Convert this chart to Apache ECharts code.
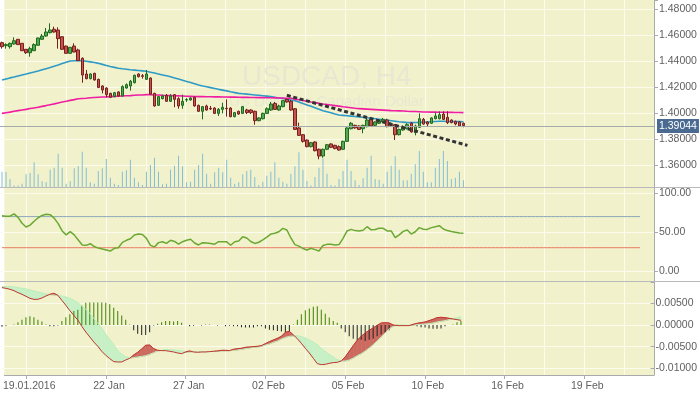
<!DOCTYPE html>
<html><head><meta charset="utf-8">
<script src="https://cdn.jsdelivr.net/npm/echarts@6/dist/echarts.min.js"></script>
<style>html,body{margin:0;padding:0;background:#fff}#c{width:700px;height:394px}</style>
</head><body><div id="c"></div>
<script>
// ---------------- data ----------------
const slotCount = 163;
const xTickIndex = [5, 25, 45, 65, 85, 105, 125, 145];
const xTickText = ['19.01.2016', '22 Jan', '27 Jan', '02 Feb', '05 Feb', '10 Feb', '16 Feb', '19 Feb'];

const priceOpen = [1.4541,1.4518,1.4510,1.4531,1.4567,1.4536,1.4490,1.4464,1.4479,1.4521,
1.4567,1.4592,1.4618,1.4644,1.4638,1.4587,1.4515,1.4459,1.4515,1.4485,
1.4421,1.4300,1.4264,1.4305,1.4259,1.4208,1.4192,1.4151,1.4126,1.4162,
1.4131,1.4192,1.4208,1.4233,1.4300,1.4287,1.4259,1.4269,1.4151,1.4059,
1.4110,1.4136,1.4090,1.4141,1.4110,1.4059,1.4100,1.4100,1.4121,1.4059,
1.4013,1.4054,1.4036,1.4038,1.3997,1.4028,1.4036,1.4038,1.3972,1.4013,
1.3997,1.4023,1.4023,1.4013,1.3941,1.3956,1.3997,1.4023,1.4074,1.4023,
1.4049,1.4105,1.4090,1.4033,1.3885,1.3833,1.3792,1.3741,1.3777,1.3721,
1.3669,1.3721,1.3762,1.3751,1.3741,1.3721,1.3782,1.3879,1.3905,1.3900,
1.3879,1.3895,1.3951,1.3905,1.3921,1.3931,1.3946,1.3910,1.3910,1.3833,
1.3869,1.3879,1.3921,1.3849,1.3890,1.3951,1.3931,1.3921,1.3956,1.3956,
1.3992,1.3967,1.3946,1.3936,1.3931,1.3921];
const priceHigh = [1.4549,1.4536,1.4541,1.4582,1.4569,1.4538,1.4492,1.4510,1.4536,1.4580,
1.4608,1.4654,1.4690,1.4664,1.4659,1.4590,1.4518,1.4508,1.4536,1.4495,
1.4428,1.4331,1.4305,1.4310,1.4264,1.4213,1.4197,1.4156,1.4162,1.4167,
1.4213,1.4228,1.4254,1.4295,1.4305,1.4300,1.4331,1.4274,1.4156,1.4131,
1.4141,1.4146,1.4146,1.4146,1.4121,1.4141,1.4115,1.4121,1.4126,1.4064,
1.4054,1.4064,1.4054,1.4044,1.4038,1.4079,1.4105,1.4044,1.4008,1.4018,
1.4054,1.4033,1.4028,1.4018,1.3967,1.4003,1.4044,1.4085,1.4085,1.4064,
1.4100,1.4110,1.4100,1.4038,1.3926,1.3838,1.3797,1.3777,1.3782,1.3726,
1.3726,1.3762,1.3767,1.3756,1.3751,1.3787,1.3890,1.3931,1.3910,1.3905,
1.3910,1.3962,1.3967,1.3936,1.3951,1.3962,1.3956,1.3926,1.3915,1.3879,
1.3905,1.3921,1.3931,1.3910,1.3997,1.3962,1.3936,1.3967,1.4003,1.4013,
1.4013,1.4013,1.3951,1.3941,1.3936,1.3926];
const priceLow = [1.4495,1.4495,1.4495,1.4526,1.4523,1.4477,1.4454,1.4433,1.4477,1.4518,
1.4562,1.4587,1.4613,1.4618,1.4495,1.4485,1.4456,1.4456,1.4467,1.4400,
1.4233,1.4259,1.4259,1.4249,1.4192,1.4151,1.4121,1.4115,1.4121,1.4126,
1.4126,1.4187,1.4172,1.4228,1.4274,1.4264,1.4254,1.4141,1.4049,1.4054,
1.4105,1.4085,1.4085,1.4044,1.4033,1.4033,1.4085,1.4095,1.4049,1.4008,
1.3951,1.4018,1.4023,1.3992,1.3977,1.3997,1.3972,1.3967,1.3967,1.3987,
1.3992,1.3992,1.3992,1.3910,1.3936,1.3951,1.3992,1.4018,1.4023,1.4018,
1.4044,1.4079,1.4018,1.3869,1.3823,1.3772,1.3736,1.3736,1.3705,1.3644,
1.3656,1.3715,1.3731,1.3721,1.3710,1.3715,1.3777,1.3874,1.3879,1.3869,
1.3844,1.3890,1.3895,1.3900,1.3915,1.3926,1.3890,1.3895,1.3792,1.3828,
1.3864,1.3874,1.3849,1.3828,1.3885,1.3910,1.3895,1.3915,1.3951,1.3951,
1.3946,1.3915,1.3921,1.3905,1.3895,1.3890];
const priceClose = [1.4510,1.4526,1.4536,1.4556,1.4526,1.4479,1.4464,1.4495,1.4526,1.4577,
1.4592,1.4623,1.4638,1.4623,1.4572,1.4490,1.4459,1.4505,1.4469,1.4403,
1.4292,1.4264,1.4300,1.4254,1.4197,1.4177,1.4141,1.4121,1.4156,1.4131,
1.4203,1.4218,1.4244,1.4290,1.4279,1.4282,1.4300,1.4146,1.4054,1.4126,
1.4131,1.4090,1.4131,1.4105,1.4054,1.4090,1.4103,1.4115,1.4054,1.4013,
1.4049,1.4023,1.4031,1.3997,1.4028,1.4044,1.4033,1.3972,1.4003,1.3992,
1.4049,1.4003,1.4003,1.3941,1.3962,1.3997,1.4033,1.4069,1.4028,1.4054,
1.4095,1.4085,1.4023,1.3874,1.3828,1.3782,1.3741,1.3772,1.3710,1.3669,
1.3721,1.3756,1.3736,1.3726,1.3715,1.3782,1.3885,1.3921,1.3885,1.3874,
1.3905,1.3946,1.3900,1.3931,1.3941,1.3951,1.3895,1.3905,1.3833,1.3874,
1.3895,1.3910,1.3854,1.3900,1.3956,1.3915,1.3915,1.3962,1.3977,1.3987,
1.3951,1.3926,1.3926,1.3915,1.3900,1.3904];

const maSlow = [1.4254,1.4262,1.4270,1.4277,1.4285,1.4293,1.4300,1.4308,1.4315,1.4323,
1.4332,1.4341,1.4350,1.4360,1.4369,1.4380,1.4390,1.4400,1.4402,1.4403,
1.4403,1.4398,1.4393,1.4388,1.4382,1.4374,1.4366,1.4358,1.4351,1.4344,
1.4340,1.4337,1.4333,1.4330,1.4327,1.4324,1.4321,1.4314,1.4307,1.4300,
1.4293,1.4286,1.4279,1.4270,1.4261,1.4252,1.4243,1.4234,1.4225,1.4215,
1.4208,1.4202,1.4195,1.4189,1.4182,1.4176,1.4170,1.4163,1.4157,1.4151,
1.4148,1.4145,1.4142,1.4139,1.4136,1.4133,1.4130,1.4126,1.4121,1.4116,
1.4111,1.4105,1.4100,1.4095,1.4084,1.4073,1.4062,1.4051,1.4040,1.4029,
1.4018,1.4010,1.4002,1.3993,1.3985,1.3982,1.3979,1.3976,1.3973,1.3970,
1.3967,1.3963,1.3959,1.3956,1.3952,1.3948,1.3945,1.3941,1.3937,1.3933,
1.3930,1.3926,1.3926,1.3927,1.3928,1.3930,1.3931,1.3933,1.3935,1.3936,
1.3936,1.3935,1.3935,1.3934,1.3934,1.3933];
const maLong = [1.3997,1.4002,1.4007,1.4013,1.4018,1.4023,1.4028,1.4034,1.4039,1.4044,
1.4051,1.4057,1.4064,1.4070,1.4077,1.4084,1.4090,1.4097,1.4103,1.4110,
1.4112,1.4114,1.4117,1.4119,1.4121,1.4123,1.4124,1.4126,1.4128,1.4129,
1.4131,1.4133,1.4134,1.4136,1.4138,1.4139,1.4141,1.4140,1.4139,1.4138,
1.4136,1.4135,1.4134,1.4133,1.4132,1.4131,1.4129,1.4128,1.4127,1.4126,
1.4126,1.4125,1.4125,1.4124,1.4124,1.4123,1.4123,1.4122,1.4122,1.4121,
1.4120,1.4120,1.4119,1.4119,1.4118,1.4118,1.4117,1.4117,1.4116,1.4115,
1.4115,1.4114,1.4113,1.4107,1.4102,1.4096,1.4091,1.4085,1.4080,1.4074,
1.4069,1.4065,1.4061,1.4057,1.4053,1.4048,1.4044,1.4040,1.4036,1.4034,
1.4032,1.4030,1.4028,1.4026,1.4024,1.4022,1.4020,1.4018,1.4017,1.4016,
1.4015,1.4013,1.4012,1.4011,1.4010,1.4008,1.4008,1.4007,1.4007,1.4006,
1.4006,1.4005,1.4005,1.4004,1.4004,1.4003];

const volume = [1530,1500,800,150,150,330,1270,1400,2470,1270,
570,470,1730,1930,3330,1930,330,570,1870,2070,
3530,1930,470,330,1600,1870,2800,930,330,200,
1530,1670,2730,930,470,200,1530,2200,2930,1530,
270,330,1730,2130,3130,2070,470,530,1730,2200,
3330,1330,330,1470,1930,1470,2730,930,330,470,
1270,1600,1730,1000,200,530,1130,1530,2470,930,
530,330,1330,2070,3470,1730,600,150,1000,1930,
2870,1330,200,150,800,1600,2730,1600,670,200,
870,1930,3130,800,730,330,1530,2130,3070,1730,
670,670,1330,2270,3600,1530,470,470,1930,2800,
3600,2600,800,930,1530,670];

const oscValues = [71,70.5,70.5,73.5,69,61.4,56.6,59,64,68.5,
71.5,73,72.5,68,61,51.5,46.5,50.6,46.5,40,
33.5,33,35.1,31.5,29.5,28.3,27,25.7,29.2,30,
36.9,39.5,41.5,46.3,47.5,47,42,33,31,36.5,
37.7,35.6,39.5,38,34.5,37.7,39.5,40.8,36,33.5,
36.5,36,35.5,34.5,37.7,37.7,37.5,33.2,37.7,38.5,
44,42.5,38,35.5,37,40,43.5,47.5,48.5,50.5,
54.9,52.8,42.5,34,32,29,27,29.2,27.5,25.7,
32.8,34.3,34.3,33.5,34,42,51.5,53.6,52,51.5,
52.5,57,53,53.5,54.9,54.9,51.5,51.5,43,46.5,
51,52.8,47.5,50.5,55.8,53.8,53.5,55.8,57,58.3,
54,52,50.8,49.8,49,48.5];
const oscUpperLevel = 70;
const oscLowerLevel = 30;
const oscLevelEnd = 159;

const macdHist = [-0.0004,-0.0002,0.0000,0.0001,0.0006,0.0012,0.0018,0.0020,0.0018,0.0012,
0.0008,0.0001,-0.0003,-0.0003,-0.0001,0.0009,0.0018,0.0025,0.0032,0.0035,
0.0045,0.0051,0.0052,0.0052,0.0052,0.0052,0.0051,0.0048,0.0040,0.0032,
0.0022,0.0012,0.0001,-0.0012,-0.0020,-0.0023,-0.0023,-0.0017,-0.0001,0.0003,
0.0006,0.0009,0.0009,0.0008,0.0009,0.0005,0.0000,-0.0003,-0.0002,0.0000,
-0.0001,0.0001,0.0001,0.0000,-0.0001,0.0000,-0.0003,-0.0002,-0.0003,-0.0003,
-0.0005,-0.0006,-0.0006,-0.0006,-0.0003,-0.0003,-0.0008,-0.0011,-0.0012,-0.0014,
-0.0015,-0.0017,-0.0015,0.0001,0.0012,0.0025,0.0034,0.0038,0.0042,0.0043,
0.0035,0.0026,0.0017,0.0009,0.0005,-0.0008,-0.0017,-0.0026,-0.0032,-0.0035,
-0.0034,-0.0037,-0.0034,-0.0031,-0.0026,-0.0022,-0.0018,-0.0012,-0.0001,0.0001,
0.0000,-0.0001,0.0000,-0.0001,-0.0003,-0.0005,-0.0006,-0.0008,-0.0009,-0.0009,
-0.0008,-0.0003,0.0000,0.0001,0.0006,0.0009];
const macdLine = [0.00862,0.00846,0.00823,0.00792,0.00746,0.00708,0.00662,0.00615,0.00592,0.00592,
0.00623,0.00669,0.00708,0.00731,0.00685,0.00569,0.00454,0.00331,0.00223,0.00115,
-0.00031,-0.00162,-0.00277,-0.00392,-0.00492,-0.00608,-0.00700,-0.00777,-0.00846,-0.00854,
-0.00854,-0.00808,-0.00769,-0.00692,-0.00631,-0.00554,-0.00469,-0.00462,-0.00546,-0.00585,
-0.00592,-0.00592,-0.00608,-0.00623,-0.00646,-0.00662,-0.00623,-0.00600,-0.00623,-0.00631,
-0.00623,-0.00623,-0.00615,-0.00608,-0.00600,-0.00585,-0.00585,-0.00592,-0.00562,-0.00546,
-0.00538,-0.00515,-0.00508,-0.00500,-0.00492,-0.00477,-0.00431,-0.00385,-0.00346,-0.00308,
-0.00262,-0.00169,-0.00146,-0.00231,-0.00315,-0.00423,-0.00538,-0.00646,-0.00769,-0.00892,
-0.00915,-0.00908,-0.00885,-0.00869,-0.00862,-0.00831,-0.00738,-0.00608,-0.00477,-0.00354,
-0.00262,-0.00185,-0.00123,-0.00069,-0.00008,0.00046,0.00054,0.00046,0.00000,-0.00015,
-0.00015,-0.00015,-0.00015,0.00015,0.00038,0.00054,0.00069,0.00100,0.00131,0.00169,
0.00177,0.00169,0.00154,0.00138,0.00123,0.00108];
const macdSignal = [0.00892,0.00885,0.00885,0.00877,0.00862,0.00846,0.00831,0.00808,0.00785,0.00762,
0.00738,0.00715,0.00700,0.00692,0.00677,0.00669,0.00646,0.00615,0.00569,0.00515,
0.00438,0.00362,0.00269,0.00154,0.00038,-0.00077,-0.00215,-0.00338,-0.00454,-0.00592,
-0.00677,-0.00731,-0.00762,-0.00754,-0.00738,-0.00723,-0.00708,-0.00677,-0.00638,-0.00600,
-0.00585,-0.00569,-0.00569,-0.00577,-0.00585,-0.00600,-0.00631,-0.00623,-0.00615,-0.00615,
-0.00615,-0.00615,-0.00615,-0.00608,-0.00608,-0.00600,-0.00600,-0.00592,-0.00585,-0.00577,
-0.00562,-0.00546,-0.00531,-0.00515,-0.00508,-0.00492,-0.00462,-0.00438,-0.00400,-0.00369,
-0.00323,-0.00285,-0.00262,-0.00254,-0.00246,-0.00269,-0.00300,-0.00346,-0.00400,-0.00454,
-0.00538,-0.00615,-0.00677,-0.00738,-0.00800,-0.00831,-0.00831,-0.00808,-0.00762,-0.00708,
-0.00662,-0.00600,-0.00531,-0.00454,-0.00369,-0.00277,-0.00185,-0.00092,-0.00031,0.00000,
0.00000,-0.00008,-0.00008,0.00000,0.00008,0.00015,0.00023,0.00031,0.00046,0.00069,
0.00085,0.00100,0.00123,0.00146,0.00169,0.00185];

const lastPrice = 1.39044;
const trendFrom = [71, 1.4136];
const trendTo = [116, 1.3751];
const titleText = 'USDCAD, H4';
const subtitleText = 'US Dollar vs Canadian Dollar';

// ---------------- styling ----------------
const FONT = "'Liberation Sans',Arial,sans-serif";
const FS = 10.5;
const BG = '#f1f2cc';
const GRIDLINE = '#fbfbee';
const LABEL = '#5f5f5f';
const AXIS = '#aaaaaa';
const W = 654;

const categories = Array.from({length: slotCount}, (_, i) => 'b' + i);

function tickFmt(step, digits) {
  return function (v) {
    const k = Math.round(v / step);
    if (Math.abs(v - k * step) > step * 1e-3) return '';
    return (k * step).toFixed(digits);
  };
}

const hiddenX = (gi) => ({
  type: 'category', gridIndex: gi, data: categories, boundaryGap: true, show: false
});
const yLabelStyle = {color: LABEL, fontSize: FS, fontFamily: FONT, margin: 5};
const yTick = {show: true, length: 4, lineStyle: {color: AXIS}};
const ySplit = {show: true, showMaxLine: false, lineStyle: {color: GRIDLINE, width: 1}};

const candleData = priceOpen.map((o, i) => [o, priceClose[i], priceLow[i], priceHigh[i]]);
const fillData = macdLine.slice(0, -1).map((a, i) => [i, a, macdSignal[i], macdLine[i + 1], macdSignal[i + 1]]);
const levelSpan = categories.slice(0, oscLevelEnd + 1);
const upperLevelData = levelSpan.map(() => oscUpperLevel);
const lowerLevelData = levelSpan.map(() => oscLowerLevel);

const FILL_UP = '#cc6a5f';
const FILL_DN = '#c8f0c6';

function renderFill(params, api) {
  const i = api.value(0);
  const a0 = api.value(1), b0 = api.value(2), a1 = api.value(3), b1 = api.value(4);
  const pa0 = api.coord([i, a0]), pb0 = api.coord([i, b0]);
  const pa1 = api.coord([i + 1, a1]), pb1 = api.coord([i + 1, b1]);
  const d0 = a0 - b0, d1 = a1 - b1;
  const polys = [];
  if (d0 * d1 >= 0) {
    polys.push({pts: [pa0, pa1, pb1, pb0], up: (d0 + d1) > 0});
  } else {
    const t = d0 / (d0 - d1);
    const c = [pa0[0] + t * (pa1[0] - pa0[0]), pa0[1] + t * (pa1[1] - pa0[1])];
    polys.push({pts: [pa0, c, pb0], up: d0 > 0});
    polys.push({pts: [c, pa1, pb1], up: d1 > 0});
  }
  return {
    type: 'group',
    children: polys.map(p => ({
      type: 'polygon', shape: {points: p.pts},
      style: {fill: p.up ? FILL_UP : FILL_DN, stroke: p.up ? FILL_UP : FILL_DN, lineWidth: 0.6}
    }))
  };
}

const option = {
  animation: false,
  backgroundColor: '#ffffff',
  textStyle: {fontFamily: FONT},
  graphic: {
    elements: [
      {type: 'text', left: 327 - 85, top: 63, z: 1, silent: true,
        style: {text: titleText, fill: '#e8e8d2', fontSize: 28, fontFamily: FONT}},
      {type: 'text', left: 327 - 98, top: 94, z: 1, silent: true,
        style: {text: subtitleText, fill: '#e8e8d2', fontSize: 15, fontFamily: FONT}},
      {type: 'line', z: 10, silent: true, shape: {x1: 0, y1: 187.5, x2: 700, y2: 187.5}, style: {stroke: '#b9b9b9', lineWidth: 1}},
      {type: 'line', z: 10, silent: true, shape: {x1: 0, y1: 281.5, x2: 700, y2: 281.5}, style: {stroke: '#b9b9b9', lineWidth: 1}}
    ]
  },
  grid: [
    {left: 0, top: 0, width: W, height: 375, show: true, backgroundColor: BG, borderWidth: 0},
    {left: 0, top: 0, width: W, height: 165},
    {left: 0, top: 0, width: W, height: 187},
    {left: 0, top: 187, width: W, height: 84},
    {left: 0, top: 282, width: W, height: 86.3}
  ],
  xAxis: [
    {
      type: 'category', gridIndex: 0, data: categories, boundaryGap: true,
      axisLine: {show: true, lineStyle: {color: AXIS}},
      axisTick: {show: true, alignWithLabel: true, length: 4, lineStyle: {color: AXIS},
        interval: (idx) => xTickIndex.includes(idx)},
      axisLabel: {
        interval: (idx) => xTickIndex.includes(idx),
        formatter: (v, idx) => { const k = xTickIndex.indexOf(idx); return k >= 0 ? xTickText[k] : ''; },
        color: LABEL, fontSize: FS, fontFamily: FONT, margin: 6, padding: [0, 0, 0, 6]
      },
      splitLine: {show: true, alignWithLabel: true, interval: (idx) => idx % 10 === 5,
        lineStyle: {color: GRIDLINE, width: 1}}
    },
    hiddenX(1), hiddenX(2), hiddenX(3), hiddenX(4)
  ],
  yAxis: [
    {type: 'value', gridIndex: 0, position: 'right', min: 0, max: 1,
      axisLine: {show: true, lineStyle: {color: AXIS}}, axisTick: {show: false},
      axisLabel: {show: false}, splitLine: {show: false}},
    {type: 'value', gridIndex: 1, position: 'right', min: 1.36, max: 1.486923, interval: 0.02,
      axisLine: {show: false}, axisTick: yTick,
      axisLabel: Object.assign({formatter: tickFmt(0.02, 5)}, yLabelStyle), splitLine: ySplit},
    {type: 'value', gridIndex: 2, position: 'right', min: 0, max: 18700, show: false},
    {type: 'value', gridIndex: 3, position: 'right', min: 0, max: 108.1, interval: 50,
      axisLine: {show: false}, axisTick: yTick,
      axisLabel: Object.assign({formatter: tickFmt(50, 2)}, yLabelStyle), splitLine: ySplit},
    {type: 'value', gridIndex: 4, position: 'right', min: -0.01, max: 0.009917, interval: 0.005,
      axisLine: {show: false}, axisTick: yTick,
      axisLabel: Object.assign({formatter: tickFmt(0.005, 5)}, yLabelStyle), splitLine: ySplit}
  ],
  series: [
    {
      type: 'bar', xAxisIndex: 2, yAxisIndex: 2, data: volume, barWidth: 1,
      itemStyle: {color: '#84bed3'}, silent: true, z: 2
    },
    {
      type: 'line', xAxisIndex: 1, yAxisIndex: 1, data: maSlow, symbol: 'none', smooth: false,
      lineStyle: {color: '#2e9ac6', width: 1.6}, silent: true, z: 3
    },
    {
      type: 'line', xAxisIndex: 1, yAxisIndex: 1, data: maLong, symbol: 'none',
      lineStyle: {color: '#f01ca2', width: 1.6}, silent: true, z: 3
    },
    {
      type: 'candlestick', xAxisIndex: 1, yAxisIndex: 1, data: candleData, barWidth: 3,
      itemStyle: {color: '#55a852', borderColor: '#1e6a1e', color0: '#c4544c', borderColor0: '#7a1f1f', borderWidth: 1},
      silent: true, z: 4,
      markLine: {
        silent: true, symbol: ['none', 'none'], animation: false,
        label: {show: false},
        data: [
          {yAxis: lastPrice,
            lineStyle: {color: '#a3abab', width: 1, type: 'solid'},
            label: {show: true, position: 'end', distance: 3, formatter: () => lastPrice.toFixed(5),
              color: '#fff', backgroundColor: '#4a6a92', padding: [2, 2, 1, 2],
              fontSize: FS, fontFamily: FONT}},
          [
            {coord: [categories[trendFrom[0]], trendFrom[1]],
              lineStyle: {color: '#333', width: 3, type: [4, 2.6]}},
            {coord: [categories[trendTo[0]], trendTo[1]]}
          ]
        ]
      }
    },
    {
      type: 'line', xAxisIndex: 3, yAxisIndex: 3, data: upperLevelData, symbol: 'none',
      lineStyle: {color: '#8aa6b9', width: 1}, itemStyle: {color: '#8aa6b9'}, silent: true, z: 2
    },
    {
      type: 'line', xAxisIndex: 3, yAxisIndex: 3, data: lowerLevelData, symbol: 'none',
      lineStyle: {color: '#ea7a62', width: 1}, itemStyle: {color: '#ea7a62'}, silent: true, z: 2
    },
    {
      type: 'line', xAxisIndex: 3, yAxisIndex: 3, data: oscValues, symbol: 'none',
      lineStyle: {color: '#6aa832', width: 1.5}, silent: true, z: 3
    },
    {
      type: 'bar', xAxisIndex: 4, yAxisIndex: 4, data: macdHist, barWidth: 1, silent: true, z: 3,
      itemStyle: {color: (p) => p.value >= 0 ? '#3f8000' : '#222222'}
    },
    {
      type: 'custom', xAxisIndex: 4, yAxisIndex: 4, data: fillData, renderItem: renderFill,
      encode: {x: 0, y: [1, 2, 3, 4]}, silent: true, z: 2, clip: false
    },
    {
      type: 'line', xAxisIndex: 4, yAxisIndex: 4, data: macdSignal, symbol: 'none',
      lineStyle: {color: '#bfeebb', width: 1}, silent: true, z: 4
    },
    {
      type: 'line', xAxisIndex: 4, yAxisIndex: 4, data: macdLine, symbol: 'none',
      lineStyle: {color: '#c0352e', width: 1}, silent: true, z: 5
    }
  ]
};

const chart = echarts.init(document.getElementById('c'), null, {renderer: 'canvas', width: 700, height: 394});
chart.setOption(option);
</script>
</body></html>
